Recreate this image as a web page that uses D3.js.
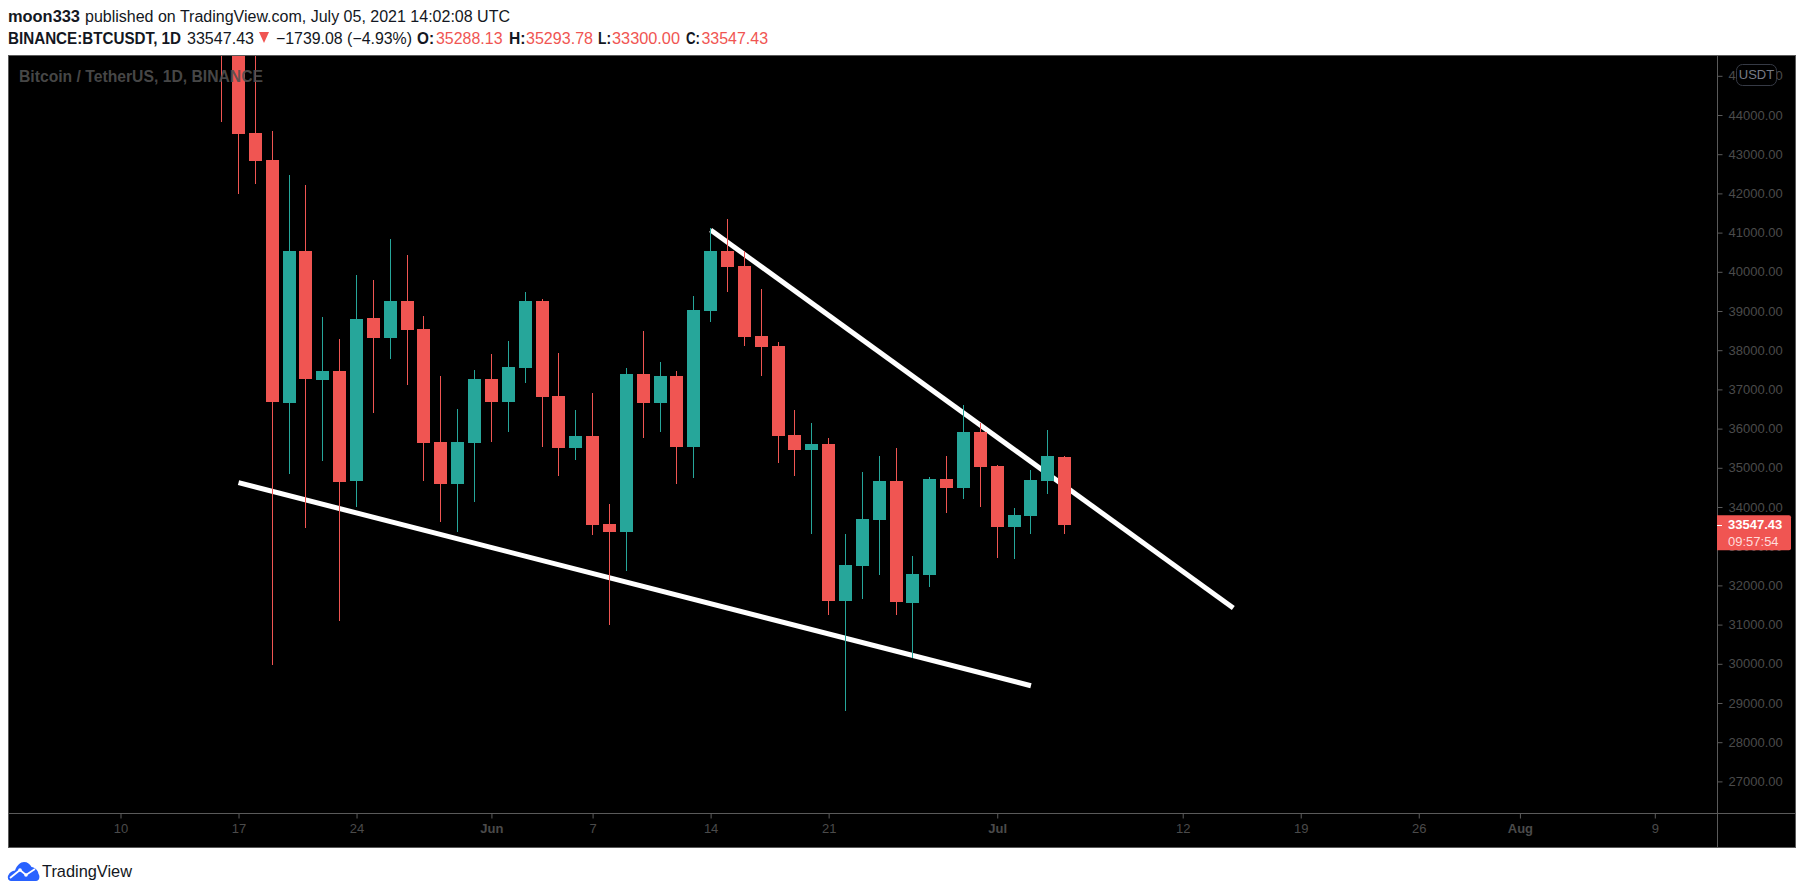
<!DOCTYPE html>
<html lang="en">

<head>
    <meta charset="UTF-8">
    <title>BTCUSDT</title>
    <script src="https://d3js.org/d3.v7.min.js"></script>
    <style>
        html,
        body {
            margin: 0;
            height: 100%;
            overflow: hidden;
            background: #fff;
        }

        text {
            font-family: "Liberation Sans", Arial, sans-serif;
        }
    </style>
</head>

<body>
    <svg id="svg"></svg>
    <script>
        // daily candles, first one is 16 May 2021
        const startDay = Date.UTC(2021, 4, 16);
        const opens = [46426, 46062, 43541, 42852, 36653, 40531, 37240, 37469, 34663, 38821, 38311, 39255, 38541, 35658, 34587, 35633, 37265,
            36679, 37546, 39255, 36832, 35505, 35811, 33566, 33362, 37393, 36653, 37342, 35531, 39000, 40531, 40148, 38362, 38107, 35837, 35454,
            35607, 31602, 32495, 33668, 34663, 31551, 32265, 34714, 34485, 35913, 35046, 33490, 33770, 34663, 35288.13];
        const highs = [49800, 46643, 45848, 43592, 42469, 42214, 38847, 38286, 39918, 39791, 40837, 40429, 38872, 37342, 36500, 37495, 37903,
            38235, 39485, 39306, 37929, 36474, 36908, 34077, 37546, 38490, 37699, 37469, 39383, 41117, 41347, 40531, 39561, 38209, 36474, 36143,
            35760, 33311, 34893, 35301, 35505, 32750, 34765, 35301, 36602, 36143, 35071, 33974, 34944, 35964, 35293.78];
        const lows = [43825, 41992, 42240, 29969, 34842, 33472, 35173, 31092, 34000, 36406, 37775, 37112, 34663, 33617, 33362, 34128, 35658,
            35913, 37163, 35531, 34791, 35199, 33286, 31000, 32367, 35760, 35913, 34587, 34740, 38719, 39485, 38107, 37342, 35122, 34791, 33311,
            31245, 28796, 31653, 32265, 31245, 30148, 31959, 33847, 34204, 34000, 32699, 32673, 33311, 34332, 33300];
        const closes = [46062, 43523, 42826, 36679, 40531, 37253, 37469, 34638, 38796, 38311, 39255, 38515, 35633, 34587, 35658, 37265, 36679,
            37571, 39255, 36806, 35505, 35811, 33541, 33362, 37393, 36653, 37342, 35531, 39025, 40531, 40122, 38337, 38082, 35811, 35454, 35607,
            31602, 32520, 33694, 34663, 31577, 32291, 34714, 34485, 35913, 35020, 33490, 33796, 34689, 35301, 33547.43];

        // hand drawn trend lines: [date, price]
        const lowerLine = [[Date.UTC(2021, 4, 17), 34620], [Date.UTC(2021, 6, 3), 29441]];
        const upperLine = [[Date.UTC(2021, 5, 14), 41066], [Date.UTC(2021, 6, 15), 31423]];

        const priceTicks = d3.range(27000, 46000, 1000);
        const timeTicks = [
            [Date.UTC(2021, 4, 10), '10'], [Date.UTC(2021, 4, 17), '17'], [Date.UTC(2021, 4, 24), '24'], [Date.UTC(2021, 5, 1), 'Jun'],
            [Date.UTC(2021, 5, 7), '7'], [Date.UTC(2021, 5, 14), '14'], [Date.UTC(2021, 5, 21), '21'], [Date.UTC(2021, 6, 1), 'Jul'],
            [Date.UTC(2021, 6, 12), '12'], [Date.UTC(2021, 6, 19), '19'], [Date.UTC(2021, 6, 26), '26'], [Date.UTC(2021, 7, 1), 'Aug'],
            [Date.UTC(2021, 7, 9), '9']
        ];
        const lastPrice = 33547.43;
        const countdown = '09:57:54';

        const RED = '#f05552';
        const GREEN = '#26a69a';
        const FRAME = '#5a5a5a';
        const TICK_TEXT = '#4b4b4b';

        const width = 1805;
        const height = 895;
        const pane = { left: 8, top: 55, right: 1717, bottom: 813 };
        const outer = { right: 1796, bottom: 848 };

        const svg = d3.select('#svg').attr('width', width).attr('height', height).style('display', 'block');

        const x = d3.scaleUtc()
            .domain([Date.UTC(2021, 4, 10), Date.UTC(2021, 7, 9)])
            .range([120.5, 1654.8]);
        const y = d3.scaleLinear()
            .domain([34000, 44000])
            .range([507, 115]);

        // header lines, placed piece by piece so each run lines up
        const label = (txt, left, right, base, color, bold) => svg.append('text')
            .attr('x', left).attr('y', base)
            .attr('textLength', right - left).attr('lengthAdjust', 'spacingAndGlyphs')
            .attr('font-size', 16).attr('font-weight', bold ? 'bold' : 'normal')
            .attr('fill', color).text(txt);

        const DARK = '#131722';
        label('moon333', 8, 80, 22, DARK, true);
        label('published on TradingView.com, July 05, 2021 14:02:08 UTC', 85, 510, 22, DARK, false);
        label('BINANCE:BTCUSDT, 1D', 8, 181, 44, DARK, true);
        label('33547.43', 187, 254, 44, DARK, false);
        label('\u22121739.08 (\u22124.93%)', 276, 412, 44, DARK, false);
        label('O:', 417, 434, 44, DARK, true);
        label('35288.13', 436, 502.5, 44, RED, false);
        label('H:', 509, 525.5, 44, DARK, true);
        label('35293.78', 526, 593, 44, RED, false);
        label('L:', 598, 611, 44, DARK, true);
        label('33300.00', 612, 680, 44, RED, false);
        label('C:', 686, 700, 44, DARK, true);
        label('33547.43', 701.5, 768, 44, RED, false);
        svg.append('path').attr('d', 'M259,32H269L264,43Z').attr('fill', RED);

        // chart background
        svg.append('rect')
            .attr('x', pane.left).attr('y', pane.top)
            .attr('width', outer.right - pane.left).attr('height', outer.bottom - pane.top)
            .attr('fill', '#000');

        svg.append('clipPath').attr('id', 'pane-clip').append('rect')
            .attr('x', pane.left).attr('y', pane.top)
            .attr('width', pane.right - pane.left).attr('height', pane.bottom - pane.top);

        const plot = svg.append('g').attr('clip-path', 'url(#pane-clip)');

        // trend lines go under the candles
        const line = d3.line().x(d => x(d[0])).y(d => y(d[1]));
        plot.selectAll('.trend').data([lowerLine, upperLine]).join('path')
            .attr('class', 'trend')
            .attr('d', line)
            .attr('fill', 'none')
            .attr('stroke', '#fff')
            .attr('stroke-width', 5);

        const candles = d3.range(opens.length).map(i => ({
            date: startDay + i * 86400000,
            open: opens[i], high: highs[i], low: lows[i], close: closes[i]
        }));
        const colorOf = d => d.close >= d.open ? GREEN : RED;
        const cx = d => Math.floor(x(d.date));

        plot.selectAll('.wick').data(candles).join('rect')
            .attr('class', 'wick')
            .attr('x', d => cx(d))
            .attr('y', d => Math.round(y(d.high)))
            .attr('width', 1)
            .attr('height', d => Math.round(y(d.low)) - Math.round(y(d.high)))
            .attr('fill', colorOf);

        plot.selectAll('.body').data(candles).join('rect')
            .attr('class', 'body')
            .attr('x', d => cx(d) - 6)
            .attr('y', d => Math.round(y(Math.max(d.open, d.close))))
            .attr('width', 13)
            .attr('height', d => Math.max(1, Math.round(Math.abs(y(d.open) - y(d.close)))))
            .attr('fill', colorOf);

        // watermark title sits over the candles
        svg.append('text')
            .attr('x', 19).attr('y', 82)
            .attr('textLength', 244).attr('lengthAdjust', 'spacingAndGlyphs')
            .attr('font-size', 16).attr('font-weight', 'bold')
            .attr('fill', '#505050').attr('fill-opacity', 0.9)
            .text('Bitcoin / TetherUS, 1D, BINANCE');

        // axes
        const priceAxis = svg.append('g')
            .attr('transform', `translate(${pane.right + 0.5},0)`)
            .call(d3.axisRight(y).tickValues(priceTicks).tickFormat(d3.format('.2f')).tickSize(5).tickPadding(6));
        priceAxis.select('.domain').remove();
        priceAxis.selectAll('line').attr('stroke', FRAME);
        priceAxis.selectAll('text').attr('fill', TICK_TEXT).attr('font-size', 13)
            .attr('font-family', '"Liberation Sans", Arial, sans-serif');

        const timeAxis = svg.append('g')
            .attr('transform', `translate(0,${pane.bottom + 0.5})`)
            .call(d3.axisBottom(x).tickValues(timeTicks.map(d => d[0]))
                .tickFormat((d, i) => timeTicks[i][1]).tickSize(5).tickPadding(5));
        timeAxis.select('.domain').remove();
        timeAxis.selectAll('line').attr('stroke', FRAME);
        timeAxis.selectAll('text').attr('fill', TICK_TEXT).attr('font-size', 13)
            .attr('font-family', '"Liberation Sans", Arial, sans-serif')
            .attr('font-weight', (d, i) => isNaN(+timeTicks[i][1]) ? 'bold' : 'normal');

        // frame
        svg.append('rect')
            .attr('x', pane.left + 0.5).attr('y', pane.top + 0.5)
            .attr('width', outer.right - pane.left - 1).attr('height', outer.bottom - pane.top - 1)
            .attr('fill', 'none').attr('stroke', FRAME);
        svg.append('path')
            .attr('d', `M${pane.right + 0.5},${pane.top}V${outer.bottom}M${pane.left},${pane.bottom + 0.5}H${outer.right}`)
            .attr('stroke', FRAME).attr('fill', 'none');

        // USDT currency badge
        svg.append('rect')
            .attr('x', 1736.5).attr('y', 64.5).attr('width', 40).attr('height', 21).attr('rx', 6)
            .attr('fill', '#000').attr('stroke', '#363a45');
        svg.append('text')
            .attr('x', 1756.5).attr('y', 79).attr('text-anchor', 'middle')
            .attr('font-size', 13).attr('fill', '#787b86').text('USDT');

        // last price tag
        const tagY = y(lastPrice);
        svg.append('path')
            .attr('d', `M${pane.right},${tagY - 9.5}H1789a2,2 0 0 1 2,2V${tagY + 23.5}a2,2 0 0 1 -2,2H${pane.right}Z`)
            .attr('fill', RED);
        svg.append('line')
            .attr('x1', pane.right).attr('x2', pane.right + 5)
            .attr('y1', Math.round(tagY) + 0.5).attr('y2', Math.round(tagY) + 0.5)
            .attr('stroke', '#fff');
        svg.append('text')
            .attr('x', 1728).attr('y', tagY + 4.5)
            .attr('font-size', 13).attr('font-weight', 'bold').attr('fill', '#fff')
            .text(d3.format('.2f')(lastPrice));
        svg.append('text')
            .attr('x', 1728).attr('y', tagY + 21)
            .attr('font-size', 13).attr('fill', '#ffdcdb')
            .text(countdown);

        // TradingView logo
        const logo = svg.append('g').attr('transform', 'translate(8,862)');
        logo.append('path')
            .attr('d', 'M3,19 C0,19 -1,15 0.5,13 C1.5,10.5 4,9 7,8.5 C9,3 12.5,0 16,0 C19.5,0 22,2 23.5,5 C27,5.5 30,8 30.5,12 C32,13.5 32,19 28,19 Z')
            .attr('fill', '#2962ff');
        logo.append('path')
            .attr('d', 'M2,16 L12,8 L18,13 L27,7')
            .attr('fill', 'none').attr('stroke', '#fff').attr('stroke-width', 1.8);
        logo.append('circle').attr('cx', 12).attr('cy', 8).attr('r', 1.8).attr('fill', '#fff');
        logo.append('circle').attr('cx', 18).attr('cy', 13).attr('r', 1.8).attr('fill', '#fff');
        svg.append('text')
            .attr('x', 42).attr('y', 877)
            .attr('textLength', 90).attr('lengthAdjust', 'spacingAndGlyphs')
            .attr('font-size', 17).attr('fill', DARK)
            .text('TradingView');
    </script>
</body>

</html>
